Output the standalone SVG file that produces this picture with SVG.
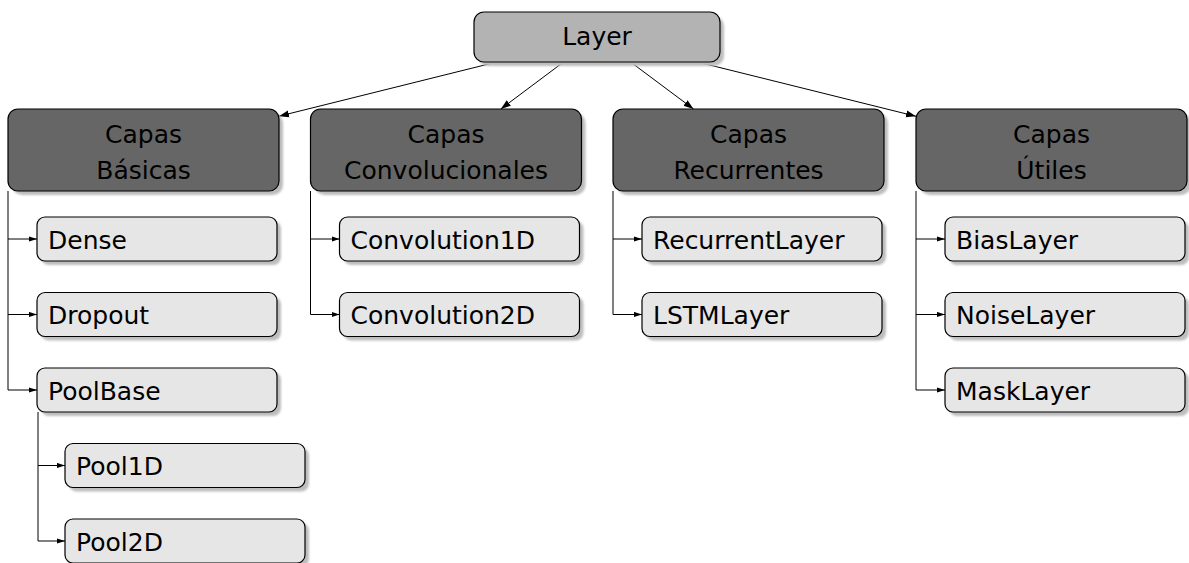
<svg xmlns="http://www.w3.org/2000/svg" width="1189" height="563" viewBox="0 0 1189 563">
  <defs>
    <filter id="soft" x="-10%" y="-10%" width="120%" height="130%">
      <feGaussianBlur stdDeviation="1"/>
    </filter>
    <marker id="head" markerWidth="10" markerHeight="8" refX="10" refY="4" orient="auto" markerUnits="userSpaceOnUse">
      <path d="M0,0.5 L10,4 L0,7.5 Z" fill="#000"/>
    </marker>
    <marker id="headS" markerWidth="8" markerHeight="6" refX="8" refY="3" orient="auto" markerUnits="userSpaceOnUse">
      <path d="M0,0.4 L8,3 L0,5.6 Z" fill="#000"/>
    </marker>
  </defs>
  <style>
    text { font-family: "DejaVu Sans", "Liberation Sans", sans-serif; font-size: 25px; fill: #000; }
    .shadow { fill: #bdbdbd; filter: url(#soft); }
    .root { fill: #b3b3b3; stroke: #000; stroke-width: 1.2; }
    .cat { fill: #666666; stroke: #000; stroke-width: 1.2; }
    .leaf { fill: #e6e6e6; stroke: #000; stroke-width: 1.2; }
    .mid { text-anchor: middle; }
    .edge { fill: none; stroke: #000; stroke-width: 1; }
    .tree { fill: none; stroke: #000; stroke-width: 1; }
  </style>

  <!-- connectors -->
  <g id="connectors">
    <line class="edge" x1="496.7" y1="62" x2="279" y2="116.2" marker-end="url(#head)"/>
    <line class="edge" x1="563.6" y1="62" x2="500.8" y2="109" marker-end="url(#head)"/>
    <line class="edge" x1="630.5" y1="62" x2="693.5" y2="109" marker-end="url(#head)"/>
    <line class="edge" x1="697.5" y1="62" x2="916" y2="116.3" marker-end="url(#head)"/>

    <!-- Capas Básicas -->
    <path class="tree" d="M8,191 V390"/>
    <path class="tree" d="M8,239 H37" marker-end="url(#headS)"/>
    <path class="tree" d="M8,314.5 H37" marker-end="url(#headS)"/>
    <path class="tree" d="M8,390 H37" marker-end="url(#headS)"/>
    <path class="tree" d="M38,412 V541"/>
    <path class="tree" d="M38,465.5 H65" marker-end="url(#headS)"/>
    <path class="tree" d="M38,541 H65" marker-end="url(#headS)"/>

    <!-- Capas Convolucionales -->
    <path class="tree" d="M310.5,191 V314.5"/>
    <path class="tree" d="M310.5,239 H339.5" marker-end="url(#headS)"/>
    <path class="tree" d="M310.5,314.5 H339.5" marker-end="url(#headS)"/>

    <!-- Capas Recurrentes -->
    <path class="tree" d="M613,191 V314.5"/>
    <path class="tree" d="M613,239 H642" marker-end="url(#headS)"/>
    <path class="tree" d="M613,314.5 H642" marker-end="url(#headS)"/>

    <!-- Capas Útiles -->
    <path class="tree" d="M916,191 V390"/>
    <path class="tree" d="M916,239 H945" marker-end="url(#headS)"/>
    <path class="tree" d="M916,314.5 H945" marker-end="url(#headS)"/>
    <path class="tree" d="M916,390 H945" marker-end="url(#headS)"/>
  </g>

  <!-- root -->
  <g id="layer">
    <rect class="shadow" x="478" y="16" width="246" height="50" rx="10"/>
    <rect class="root" x="474" y="12" width="246" height="50" rx="10"/>
    <text class="mid" x="597" y="45">Layer</text>
  </g>

  <!-- categories -->
  <g id="capas-basicas">
    <rect class="shadow" x="12" y="113" width="271" height="82" rx="10"/>
    <rect class="cat" x="8" y="109" width="271" height="82" rx="10"/>
    <text class="mid" x="143.5" y="143">Capas</text>
    <text class="mid" x="143.5" y="179">Básicas</text>
  </g>
  <g id="capas-convolucionales">
    <rect class="shadow" x="314.5" y="113" width="271" height="82" rx="10"/>
    <rect class="cat" x="310.5" y="109" width="271" height="82" rx="10"/>
    <text class="mid" x="446" y="143">Capas</text>
    <text class="mid" x="446" y="179">Convolucionales</text>
  </g>
  <g id="capas-recurrentes">
    <rect class="shadow" x="617" y="113" width="271" height="82" rx="10"/>
    <rect class="cat" x="613" y="109" width="271" height="82" rx="10"/>
    <text class="mid" x="748.5" y="143">Capas</text>
    <text class="mid" x="748.5" y="179">Recurrentes</text>
  </g>
  <g id="capas-utiles">
    <rect class="shadow" x="920" y="113" width="271" height="82" rx="10"/>
    <rect class="cat" x="916" y="109" width="271" height="82" rx="10"/>
    <text class="mid" x="1051.5" y="143">Capas</text>
    <text class="mid" x="1051.5" y="179">Útiles</text>
  </g>

  <!-- Capas Básicas leaves -->
  <g id="dense">
    <rect class="shadow" x="41" y="221" width="240" height="44" rx="8"/>
    <rect class="leaf" x="37" y="217" width="240" height="44" rx="8"/>
    <text x="48" y="248.5">Dense</text>
  </g>
  <g id="dropout">
    <rect class="shadow" x="41" y="296.5" width="240" height="44" rx="8"/>
    <rect class="leaf" x="37" y="292.5" width="240" height="44" rx="8"/>
    <text x="48" y="324">Dropout</text>
  </g>
  <g id="poolbase">
    <rect class="shadow" x="41" y="372" width="240" height="44" rx="8"/>
    <rect class="leaf" x="37" y="368" width="240" height="44" rx="8"/>
    <text x="48" y="399.5">PoolBase</text>
  </g>
  <g id="pool1d">
    <rect class="shadow" x="69" y="447.5" width="240" height="44" rx="8"/>
    <rect class="leaf" x="65" y="443.5" width="240" height="44" rx="8"/>
    <text x="76" y="475">Pool1D</text>
  </g>
  <g id="pool2d">
    <rect class="shadow" x="69" y="523" width="240" height="44" rx="8"/>
    <rect class="leaf" x="65" y="519" width="240" height="44" rx="8"/>
    <text x="76" y="550.5">Pool2D</text>
  </g>

  <!-- Capas Convolucionales leaves -->
  <g id="convolution1d">
    <rect class="shadow" x="343.5" y="221" width="240" height="44" rx="8"/>
    <rect class="leaf" x="339.5" y="217" width="240" height="44" rx="8"/>
    <text x="350.5" y="248.5">Convolution1D</text>
  </g>
  <g id="convolution2d">
    <rect class="shadow" x="343.5" y="296.5" width="240" height="44" rx="8"/>
    <rect class="leaf" x="339.5" y="292.5" width="240" height="44" rx="8"/>
    <text x="350.5" y="324">Convolution2D</text>
  </g>

  <!-- Capas Recurrentes leaves -->
  <g id="recurrentlayer">
    <rect class="shadow" x="646" y="221" width="240" height="44" rx="8"/>
    <rect class="leaf" x="642" y="217" width="240" height="44" rx="8"/>
    <text x="653" y="248.5">RecurrentLayer</text>
  </g>
  <g id="lstmlayer">
    <rect class="shadow" x="646" y="296.5" width="240" height="44" rx="8"/>
    <rect class="leaf" x="642" y="292.5" width="240" height="44" rx="8"/>
    <text x="653" y="324">LSTMLayer</text>
  </g>

  <!-- Capas Útiles leaves -->
  <g id="biaslayer">
    <rect class="shadow" x="949" y="221" width="240" height="44" rx="8"/>
    <rect class="leaf" x="945" y="217" width="240" height="44" rx="8"/>
    <text x="956" y="248.5">BiasLayer</text>
  </g>
  <g id="noiselayer">
    <rect class="shadow" x="949" y="296.5" width="240" height="44" rx="8"/>
    <rect class="leaf" x="945" y="292.5" width="240" height="44" rx="8"/>
    <text x="956" y="324">NoiseLayer</text>
  </g>
  <g id="masklayer">
    <rect class="shadow" x="949" y="372" width="240" height="44" rx="8"/>
    <rect class="leaf" x="945" y="368" width="240" height="44" rx="8"/>
    <text x="956" y="399.5">MaskLayer</text>
  </g>
</svg>
